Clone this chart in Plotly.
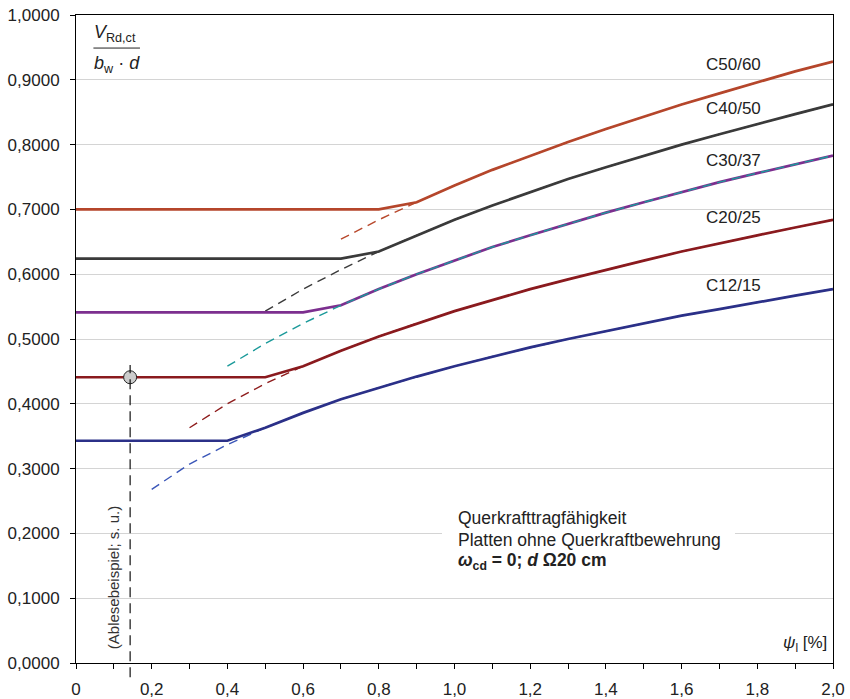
import plotly.graph_objects as go

# ---------------- data ----------------
rho = [0.0, 0.1, 0.2, 0.3, 0.4, 0.5, 0.6, 0.7, 0.8, 0.9, 1.0,
       1.1, 1.2, 1.3, 1.4, 1.5, 1.6, 1.7, 1.8, 1.9, 2.0]

c12_solid = [0.343, 0.343, 0.343, 0.343, 0.343, 0.363, 0.386, 0.407, 0.425, 0.442, 0.458,
             0.473, 0.487, 0.500, 0.512, 0.524, 0.536, 0.546, 0.557, 0.567, 0.577]
c20_solid = [0.441, 0.441, 0.441, 0.441, 0.441, 0.441, 0.458, 0.482, 0.504, 0.524, 0.543,
             0.560, 0.577, 0.592, 0.607, 0.621, 0.635, 0.648, 0.660, 0.672, 0.684]
c30_solid = [0.541, 0.541, 0.541, 0.541, 0.541, 0.541, 0.541, 0.552, 0.577, 0.600, 0.621,
             0.642, 0.660, 0.678, 0.695, 0.711, 0.727, 0.742, 0.756, 0.770, 0.783]
c40_solid = [0.624, 0.624, 0.624, 0.624, 0.624, 0.624, 0.624, 0.624, 0.635, 0.660, 0.684,
             0.706, 0.727, 0.747, 0.765, 0.783, 0.800, 0.816, 0.832, 0.847, 0.862]
c50_solid = [0.700, 0.700, 0.700, 0.700, 0.700, 0.700, 0.700, 0.700, 0.700, 0.711, 0.737,
             0.761, 0.783, 0.804, 0.824, 0.843, 0.862, 0.879, 0.896, 0.913, 0.928]

c12_dash_x = [0.2, 0.3, 0.4, 0.5, 0.6, 0.7, 0.8, 0.9, 1.0, 1.1, 1.2, 1.3, 1.4, 1.5, 1.6, 1.7, 1.8, 1.9, 2.0]
c12_dash_y = [0.268, 0.307, 0.337, 0.363, 0.386, 0.407, 0.425, 0.442, 0.458, 0.473, 0.487,
              0.500, 0.512, 0.524, 0.536, 0.546, 0.557, 0.567, 0.577]
c20_dash_x = [0.3, 0.4, 0.5, 0.6, 0.7, 0.8, 0.9, 1.0, 1.1, 1.2, 1.3, 1.4, 1.5, 1.6, 1.7, 1.8, 1.9, 2.0]
c20_dash_y = [0.363, 0.400, 0.431, 0.458, 0.482, 0.504, 0.524, 0.543, 0.560, 0.577,
              0.592, 0.607, 0.621, 0.635, 0.648, 0.660, 0.672, 0.684]
c30_dash_x = [0.4, 0.5, 0.6, 0.7, 0.8, 0.9, 1.0, 1.1, 1.2, 1.3, 1.4, 1.5, 1.6, 1.7, 1.8, 1.9, 2.0]
c30_dash_y = [0.458, 0.493, 0.524, 0.552, 0.577, 0.600, 0.621, 0.642, 0.660,
              0.678, 0.695, 0.711, 0.727, 0.742, 0.756, 0.770, 0.783]
c40_dash_x = [0.5, 0.6, 0.7, 0.8, 0.9, 1.0, 1.1, 1.2, 1.3, 1.4, 1.5, 1.6, 1.7, 1.8, 1.9, 2.0]
c40_dash_y = [0.543, 0.577, 0.607, 0.635, 0.660, 0.684, 0.706, 0.727,
              0.747, 0.765, 0.783, 0.800, 0.816, 0.832, 0.847, 0.862]
c50_dash_x = [0.7, 0.8, 0.9, 1.0, 1.1, 1.2, 1.3, 1.4, 1.5, 1.6, 1.7, 1.8, 1.9, 2.0]
c50_dash_y = [0.654, 0.684, 0.711, 0.737, 0.761, 0.783, 0.804, 0.824,
              0.843, 0.862, 0.879, 0.896, 0.913, 0.928]

labels = ["C50/60", "C40/50", "C30/37", "C20/25", "C12/15"]
label_x = [1.736, 1.736, 1.736, 1.736, 1.736]
label_y = [0.923, 0.855, 0.776, 0.688, 0.582]

example_x = [0.143]
example_y = [0.441]

x_tickvals = [0, 0.2, 0.4, 0.6, 0.8, 1.0, 1.2, 1.4, 1.6, 1.8, 2.0]
x_ticktext = ["0", "0,2", "0,4", "0,6", "0,8", "1,0", "1,2", "1,4", "1,6", "1,8", "2,0"]

info_lines = ["Querkrafttragfähigkeit",
              "Platten ohne Querkraftbewehrung",
              "<b><i>ω</i><sub>cd</sub> = 0; <i>d</i> Ω20 cm</b>"]
info_y = [0.224, 0.190, 0.156]

# ---------------- figure ----------------
FONT = "Liberation Sans, Arial, sans-serif"
TXT = "#222222"
fig = go.Figure()

dash_style = "9px,6px"

# dashed extensions (below solid)
dashes = [
    (c12_dash_x, c12_dash_y, "#3a56b8"),
    (c20_dash_x, c20_dash_y, "#8e1c1c"),
    (c40_dash_x, c40_dash_y, "#3a3a3a"),
    (c50_dash_x, c50_dash_y, "#b8482c"),
]
for xs, ys, col in dashes:
    fig.add_trace(go.Scatter(x=xs, y=ys, mode="lines",
                             line=dict(color=col, width=1.4, dash=dash_style),
                             hoverinfo="skip", showlegend=False))

solids = [
    (c12_solid, "#2b3088"),
    (c20_solid, "#8a1a1e"),
    (c30_solid, "#7c2f8f"),
    (c40_solid, "#3a3a3a"),
    (c50_solid, "#b5462b"),
]
for ys, col in solids:
    fig.add_trace(go.Scatter(x=rho, y=ys, mode="lines",
                             line=dict(color=col, width=2.7),
                             showlegend=False))

# teal dashed for C30/37 on top
fig.add_trace(go.Scatter(x=c30_dash_x, y=c30_dash_y, mode="lines",
                         line=dict(color="#1b9a9a", width=1.4, dash=dash_style),
                         hoverinfo="skip", showlegend=False))

# vertical reading line
fig.add_shape(type="line", xref="x", yref="paper",
              x0=example_x[0], x1=example_x[0], y0=-0.022, y1=0.46,
              line=dict(color="#111111", width=1.2, dash="10px,6px"))

# example marker
fig.add_trace(go.Scatter(x=example_x, y=example_y, mode="markers",
                         marker=dict(size=13, color="#cccccc",
                                     line=dict(color="#222222", width=1)),
                         showlegend=False, cliponaxis=False))

# white box behind info text
fig.add_shape(type="rect", xref="x", yref="y", x0=0.967, x1=1.741, y0=0.138, y1=0.242,
              fillcolor="white", line=dict(width=0), layer="above")

annotations = []
for t, lx, ly in zip(labels, label_x, label_y):
    annotations.append(dict(x=lx, y=ly, xref="x", yref="y", text=t,
                            showarrow=False, font=dict(family=FONT, size=17, color=TXT)))

annotations.append(dict(x=0.098, y=0.131, xref="x", yref="y",
                        text="(Ablesebeispiel; s. u.)", textangle=-90, showarrow=False,
                        font=dict(family=FONT, size=15, color="#333333")))

for t, iy in zip(info_lines, info_y):
    annotations.append(dict(x=1.006, y=iy, xref="x", yref="y", xanchor="left",
                            align="left", showarrow=False, borderpad=0,
                            text=t, font=dict(family=FONT, size=17.5, color=TXT)))

# y-axis label (fraction)
annotations.append(dict(x=0.102, y=0.971, xref="x", yref="y", showarrow=False,
                        text="<i>V</i><sub>Rd,ct</sub>",
                        font=dict(family=FONT, size=18, color=TXT)))
annotations.append(dict(x=0.108, y=0.924, xref="x", yref="y", showarrow=False,
                        text="<i>b</i><sub>w</sub> · <i>d</i>",
                        font=dict(family=FONT, size=18, color=TXT)))
fig.add_shape(type="line", xref="x", yref="y", x0=0.046, x1=0.169, y0=0.949, y1=0.949,
              line=dict(color=TXT, width=1))

# x-axis label
annotations.append(dict(x=1.926, y=0.03, xref="x", yref="y", showarrow=False,
                        text="<i>ψ</i><sub>l</sub> [%]",
                        font=dict(family=FONT, size=17, color=TXT)))

fig.update_layout(
    width=850, height=699,
    margin=dict(l=76, r=17, t=15, b=36, autoexpand=False),
    paper_bgcolor="white", plot_bgcolor="white",
    separators=",.",
    font=dict(family=FONT, size=17, color=TXT),
    annotations=annotations,
    showlegend=False,
)
fig.update_xaxes(range=[0, 2.0], tickvals=x_tickvals, ticktext=x_ticktext,
                 ticks="outside", ticklen=5, tickcolor="#000", tickwidth=1,
                 minor=dict(dtick=0.1, ticks="outside", ticklen=5, tickcolor="#000", tickwidth=1),
                 showgrid=False, zeroline=False, automargin=False,
                 ticklabelstandoff=6,
                 showline=True, linecolor="#000", linewidth=1, mirror=True,
                 tickfont=dict(family=FONT, size=17, color=TXT))
fig.update_yaxes(range=[0, 1.0], dtick=0.1, tickformat=".4f",
                 ticks="outside", ticklen=5, tickcolor="#000", tickwidth=1,
                 showgrid=True, gridcolor="#d4d4d4", gridwidth=1, zeroline=False,
                 automargin=False, ticklabelstandoff=7,
                 showline=True, linecolor="#000", linewidth=1, mirror=True,
                 tickfont=dict(family=FONT, size=17, color=TXT))

fig.write_html("out.html",
               config={"displayModeBar": False},
               post_script="document.body.style.margin='0px';document.body.style.padding='0px';")
